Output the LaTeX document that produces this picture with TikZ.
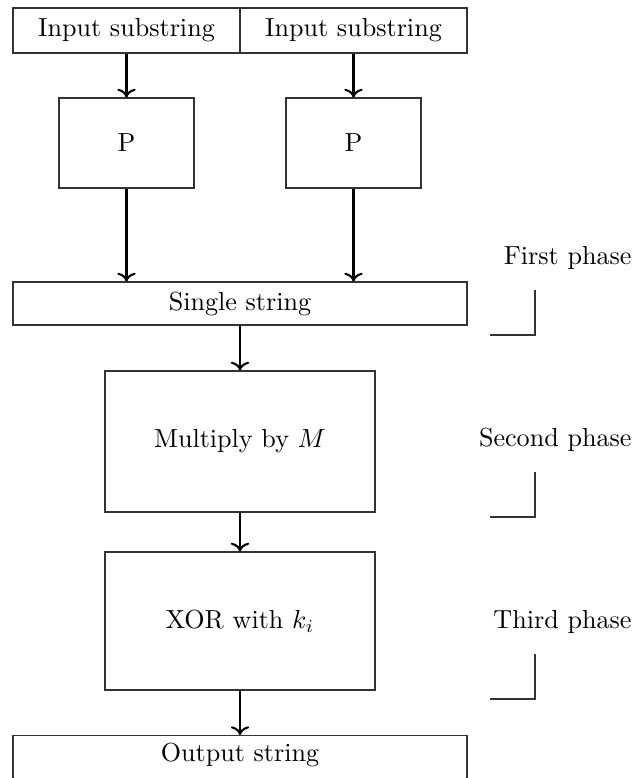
\documentclass[tikz,border=0pt]{standalone}
\usetikzlibrary{arrows.meta}
\def\pxu{0.383pt}
\tikzset{
  box/.style={draw=black!80, line width=0.4pt, inner sep=0pt, font=\fontsize{10}{12}\selectfont},
  arr/.style={->, line width=0.8pt, black},
  lbl/.style={inner sep=0pt, font=\fontsize{10}{12}\selectfont},
  brk/.style={draw=black!80, line width=0.4pt},
}
\begin{document}
\begin{tikzpicture}[x=\pxu, y=-\pxu]
\useasboundingbox (0,0) rectangle (635,778);
% boxes
\node[box, minimum width=227*\pxu, minimum height=45*\pxu] (in1) at (126.5,30.5) {Input substring};
\node[box, minimum width=227*\pxu, minimum height=45*\pxu] (in2) at (353.5,30.5) {Input substring};
\node[box, minimum width=135*\pxu, minimum height=90*\pxu] (p1) at (126.5,143) {P};
\node[box, minimum width=135*\pxu, minimum height=90*\pxu] (p2) at (353.5,143) {P};
\node[box, minimum width=454*\pxu, minimum height=43*\pxu] (ss) at (240,303.5) {Single string};
\node[box, minimum width=270*\pxu, minimum height=141*\pxu] (mm) at (240,441.5) {Multiply by $M$};
\node[box, minimum width=270*\pxu, minimum height=138*\pxu] (xo) at (240,621) {XOR with $k_i$};
\node[box, minimum width=454*\pxu, minimum height=45*\pxu, anchor=north] (out) at (240,735) {};
\node[lbl] (outl) at (240,755) {Output string};
% arrows
\draw[arr] (in1.south) -- (p1.north);
\draw[arr] (in2.south) -- (p2.north);
\draw[arr] (p1.south) -- (p1.south |- ss.north);
\draw[arr] (p2.south) -- (p2.south |- ss.north);
\draw[arr] (ss.south) -- (mm.north);
\draw[arr] (mm.south) -- (xo.north);
\draw[arr] (xo.south) -- (out.north);
% phase labels
\node[lbl, anchor=east] (ph1) at (632,258) {First phase};
\node[lbl, anchor=east] (ph2) at (632,440) {Second phase};
\node[lbl, anchor=east] (ph3) at (632,622) {Third phase};
% brackets
\coordinate (b1t) at (535,290); \coordinate (b1c) at (535,335); \coordinate (b1l) at (490,335);
\coordinate (b2t) at (535,472); \coordinate (b2c) at (535,517); \coordinate (b2l) at (490,517);
\coordinate (b3t) at (535,654); \coordinate (b3c) at (535,699); \coordinate (b3l) at (490,699);
\draw[brk] (b1t) -- (b1c) -- (b1l);
\draw[brk] (b2t) -- (b2c) -- (b2l);
\draw[brk] (b3t) -- (b3c) -- (b3l);
\end{tikzpicture}
\end{document}
